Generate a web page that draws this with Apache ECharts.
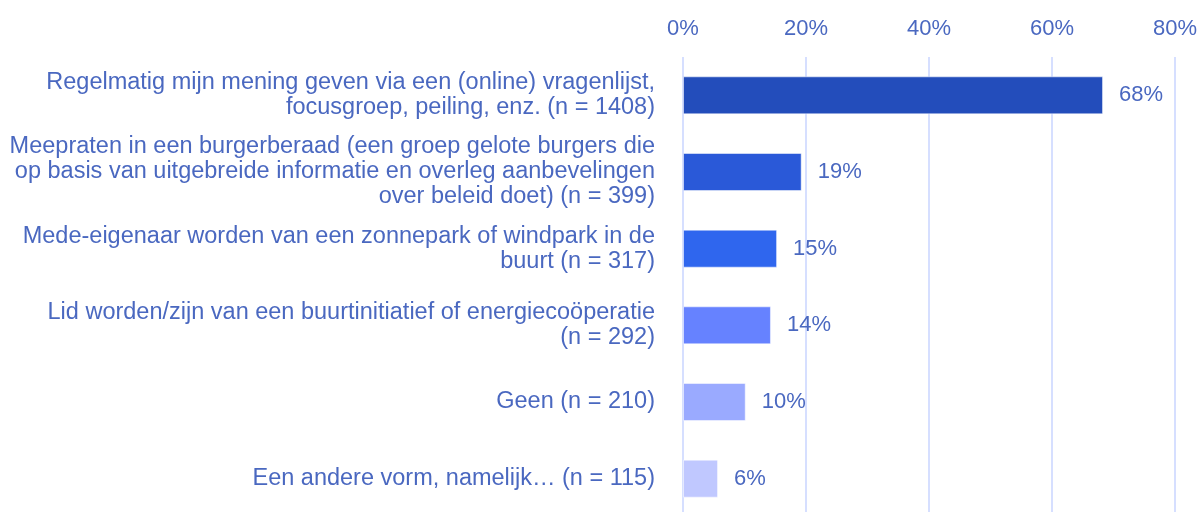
<!DOCTYPE html>
<html>
<head>
<meta charset="utf-8">
<script src="https://cdn.jsdelivr.net/npm/echarts@6/dist/echarts.min.js"></script>
<style>
  html, body { margin: 0; padding: 0; background: #fff; }
  #chart { width: 1199px; height: 512px; }
</style>
</head>
<body>
<div id="chart"></div>
<script>
// categories (top to bottom), pre-wrapped like the original
var categories = [
  'Regelmatig mijn mening geven via een (online) vragenlijst,\nfocusgroep, peiling, enz. (n = 1408)',
  'Meepraten in een burgerberaad (een groep gelote burgers die\nop basis van uitgebreide informatie en overleg aanbevelingen\nover beleid doet) (n = 399)',
  'Mede-eigenaar worden van een zonnepark of windpark in de\nbuurt (n = 317)',
  'Lid worden/zijn van een buurtinitiatief of energiecoöperatie\n(n = 292)',
  'Geen (n = 210)',
  'Een andere vorm, namelijk… (n = 115)'
]
// percentages
var values = [68.3, 19.3, 15.3, 14.3, 10.2, 5.7]
var barColors = ['#234dbb', '#2a59d8', '#2f66ee', '#6682ff', '#9aaaff', '#c0c8ff']
var xTicks = [0, 20, 40, 60, 80]

var textColor = '#4a68c0'
var fontFamily = 'Liberation Sans, Arial, sans-serif'
var chart = echarts.init(document.getElementById('chart'))

chart.setOption({
  animation: false,
  grid: {
    left: 683,
    right: 24,
    top: 57,
    height: 460,
    outerBoundsMode: 'none',
    containLabel: false
  },
  xAxis: {
    type: 'value',
    position: 'top',
    min: xTicks[0],
    max: xTicks[xTicks.length - 1],
    interval: 20,
    axisLine: { show: false },
    axisTick: { show: false },
    axisLabel: {
      formatter: '{value}%',
      color: textColor,
      fontSize: 22,
      fontFamily: fontFamily,
      margin: 17
    },
    splitLine: { lineStyle: { color: '#c9d5ff', width: 1.5 } }
  },
  yAxis: {
    type: 'category',
    inverse: true,
    data: categories,
    axisLine: { show: false },
    axisTick: { show: false },
    axisLabel: {
      color: textColor,
      fontSize: 23.5,
      lineHeight: 25,
      fontFamily: fontFamily,
      margin: 28,
      align: 'right'
    }
  },
  series: [{
    type: 'bar',
    barWidth: 38,
    data: values.map(function (v, i) {
      return { value: v, itemStyle: { color: barColors[i] } }
    }),
    itemStyle: {
      borderColor: 'rgba(255,255,255,0.5)',
      borderWidth: 1
    },
    label: {
      show: true,
      position: 'right',
      distance: 16,
      color: textColor,
      fontSize: 22,
      fontFamily: fontFamily,
      formatter: function (p) { return Math.round(p.value) + '%' }
    }
  }]
})
</script>
</body>
</html>
